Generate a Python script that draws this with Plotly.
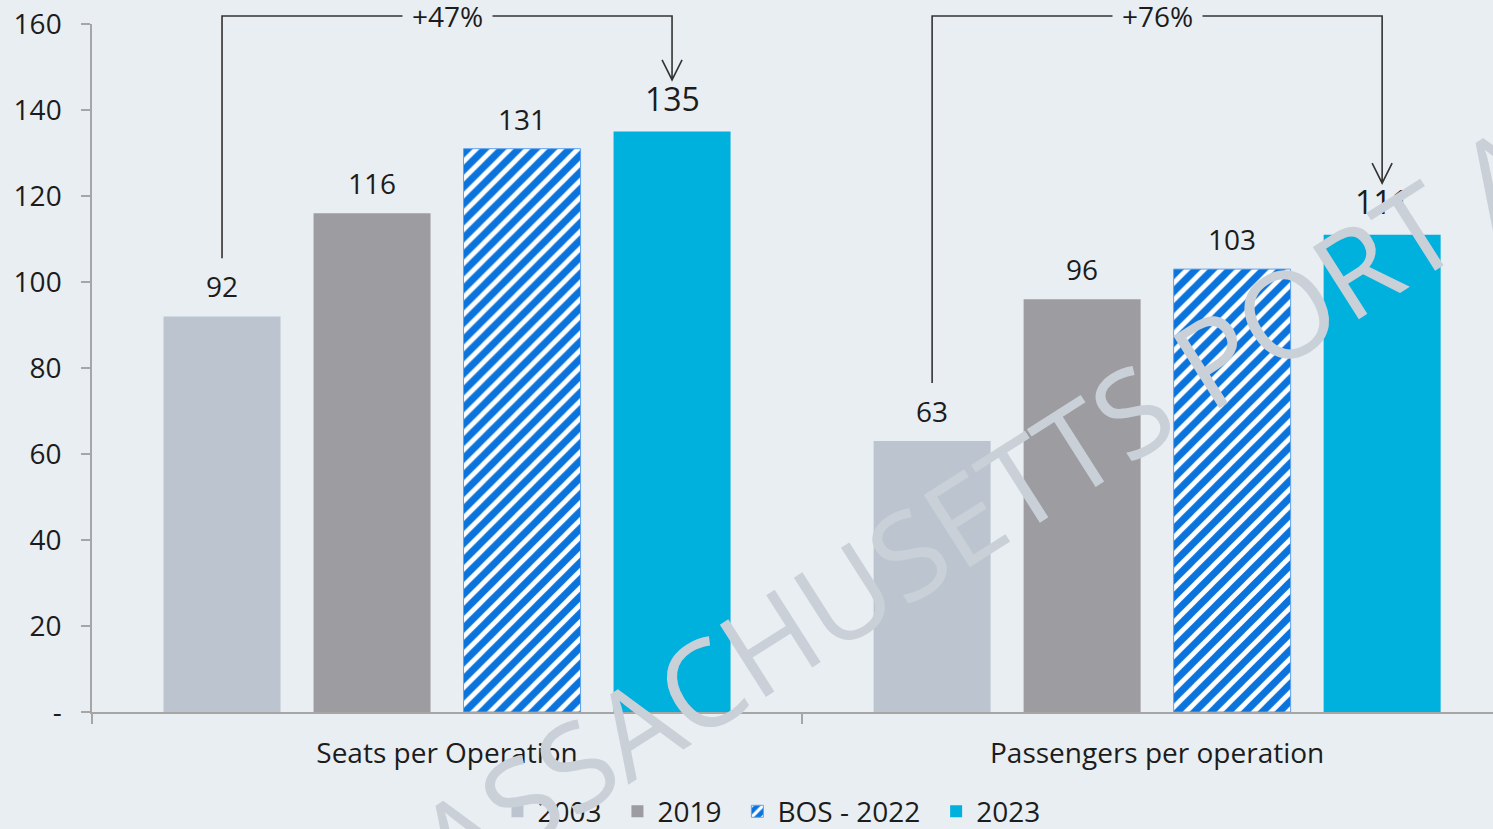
import plotly.graph_objects as go

categories = ["Seats per Operation", "Passengers per operation"]
series_names = ["2003", "2019", "BOS - 2022", "2023"]
values_2003 = [92, 63]
values_2019 = [116, 96]
values_2022 = [131, 103]
values_2023 = [135, 111]
growth_labels = ["+47%", "+76%"]
y_tickvals = [0, 20, 40, 60, 80, 100, 120, 140, 160]
y_ticktext = ["-", "20", "40", "60", "80", "100", "120", "140", "160"]

BG = "#E9EEF2"
FONT = "Open Sans"
TXT = "#1c1c1c"
colors = ["#BCC5CF", "#9D9CA1", "#0A73DC", "#00B1DE"]
all_values = [values_2003, values_2019, values_2022, values_2023]

Y_MAX = 160
BARGAP = 0.155
GROUPGAP = 0.22
N = len(series_names)
slot = (1 - BARGAP) / N
offsets = [(i - (N - 1) / 2) * slot for i in range(N)]
PAD = "\u00a0\u202f"

fig = go.Figure()
for i, (name, vals) in enumerate(zip(series_names, all_values)):
    if name == "BOS - 2022":
        marker = dict(color=colors[i],
                      pattern=dict(shape="/", fgcolor="white", bgcolor=colors[i],
                                   size=12, solidity=0.4, fillmode="replace"),
                      line=dict(color="#5FA2EA", width=1))
    else:
        marker = dict(color=colors[i], line=dict(width=0))
    fig.add_trace(go.Bar(x=categories, y=vals,
                         name=name + (PAD if i < N - 1 else ""), marker=marker,
                         hoverinfo="skip"))

annotations = []
# value labels
for i, vals in enumerate(all_values):
    for c, v in enumerate(vals):
        big = (i == N - 1)
        annotations.append(dict(
            x=c + offsets[i], y=v, xref="x", yref="y", text=str(v), showarrow=False,
            yanchor="middle", yshift=33 if big else 30,
            font=dict(family=FONT, size=32 if big else 28, color=TXT)))

# brackets with arrows
shapes = []
top_p = 1.0116
base_off = 13.5
tip_off = 12
dx = 10 / 710
dy = 20 / 688
for c in range(len(categories)):
    x0 = c + offsets[0]
    x1 = c + offsets[-1]
    y_lo = (values_2003[c] + base_off) / Y_MAX
    y_tip = (values_2023[c] + tip_off) / Y_MAX
    path = (f"M {x0},{y_lo} L {x0},{top_p} L {x1},{top_p} L {x1},{y_tip} "
            f"M {x1 - dx},{y_tip + dy} L {x1},{y_tip} L {x1 + dx},{y_tip + dy}")
    shapes.append(dict(type="path", path=path, xref="x", yref="paper",
                       line=dict(color="#333333", width=1.6)))
    annotations.append(dict(
        x=c, y=top_p, xref="x", yref="paper", text=growth_labels[c], showarrow=False,
        yanchor="middle", xanchor="center", bgcolor=BG, borderpad=9,
        font=dict(family=FONT, size=28, color=TXT)))

# watermark
annotations.append(dict(
    x=0.775, y=0.484, xref="paper", yref="paper", text="MASSACHUSETTS PORT AUTHORITY",
    showarrow=False, textangle=-32.5, xanchor="center", yanchor="middle",
    font=dict(family=FONT, size=120, color="#C9D0D8")))

fig.update_layout(
    width=1493, height=829,
    margin=dict(l=92, r=0, t=24, b=117),
    paper_bgcolor=BG, plot_bgcolor=BG,
    barmode="group", bargap=BARGAP, bargroupgap=GROUPGAP,
    font=dict(family=FONT, color=TXT),
    showlegend=True,
    legend=dict(orientation="h", x=0.485, xanchor="center",
                yref="container", y=0.021, yanchor="middle",
                font=dict(family=FONT, size=28, color=TXT), bgcolor="rgba(0,0,0,0)",
                itemclick=False, itemdoubleclick=False),
    shapes=shapes,
    annotations=annotations,
)
fig.update_xaxes(type="category", range=[-0.5, 1.473], showline=True, linecolor="#A6A6A6",
                 linewidth=1.5, ticks="outside", tickson="boundaries", ticklen=10,
                 tickcolor="#A6A6A6", tickwidth=1.5, showgrid=False, zeroline=False,
                 tickfont=dict(family=FONT, size=28, color=TXT), ticklabelstandoff=16)
fig.update_yaxes(range=[0, Y_MAX], showline=True, linecolor="#A6A6A6", linewidth=1.5,
                 ticks="outside", ticklen=9, tickcolor="#A6A6A6", tickwidth=1.5,
                 tickvals=y_tickvals, ticktext=y_ticktext, showgrid=False, zeroline=False,
                 tickfont=dict(family=FONT, size=28, color=TXT), ticklabelstandoff=14)

fig.write_html("out.html", config={"displayModeBar": False})

# remove the default page margin so the figure fills the window
with open("out.html", "r", encoding="utf-8") as f:
    html = f.read()
html = html.replace("<head>", "<head><style>html,body{margin:0;padding:0;overflow:hidden;}</style>", 1)
with open("out.html", "w", encoding="utf-8") as f:
    f.write(html)
